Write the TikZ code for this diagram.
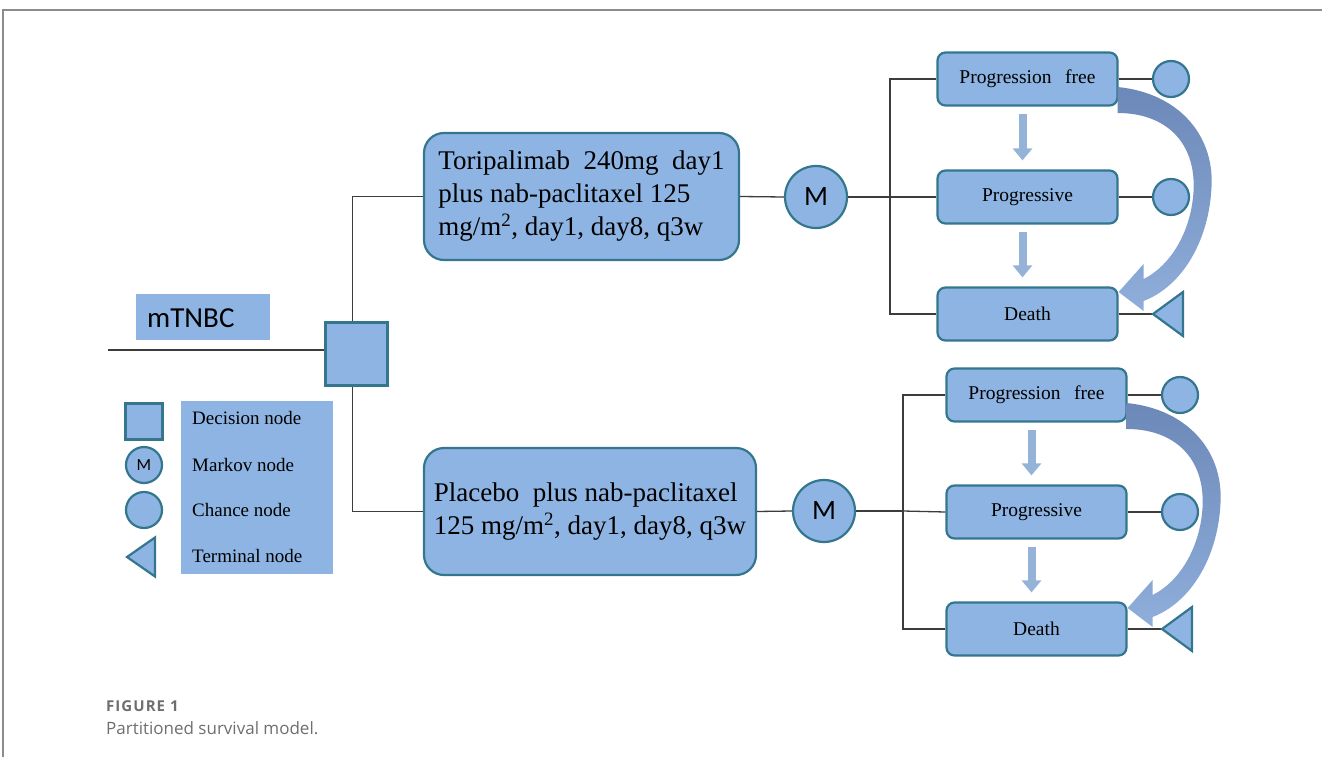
\documentclass[tikz,border=0pt]{standalone}
\usepackage{fontspec}
\setmainfont{Liberation Serif}
\newfontfamily\calibri{Carlito}
\newfontfamily\capfont{Open Sans}
\newfontfamily\figfont[LetterSpace=7]{Open Sans}
\usetikzlibrary{arrows.meta,calc,shapes.geometric}
\definecolor{boxfill}{RGB}{141,180,226}
\definecolor{bordc}{RGB}{52,118,142}
\definecolor{linec}{RGB}{60,60,60}
\definecolor{sarrow}{RGB}{149,179,215}
\definecolor{bigtop}{RGB}{108,136,184}
\definecolor{bigbot}{RGB}{143,174,218}
\definecolor{framec}{RGB}{140,140,140}
\definecolor{capc}{RGB}{110,110,110}
\tikzset{
  conn/.style={draw=linec, line width=1.3pt},
  shp/.style={draw=bordc, fill=boxfill, line width=2.2pt},
  decision/.style={shp, rectangle, minimum width=62pt, minimum height=63pt, inner sep=0pt},
  bigbox/.style={shp, rounded corners=20pt, inner sep=0pt, align=left, font=\fontsize{27}{33}\selectfont},
  statebox/.style={shp, rounded corners=8pt, minimum width=180pt, minimum height=53pt, inner sep=0pt, font=\fontsize{19.5}{22}\selectfont},
  markov/.style={shp, circle, minimum size=62pt, inner sep=0pt, font=\calibri\fontsize{28}{28}\selectfont},
  chance/.style={shp, circle, minimum size=36pt, inner sep=0pt},
  term/.style={shp, line join=miter},
  small arrow/.style={draw=sarrow, line width=8pt, -{Triangle[width=19pt,length=12pt]}},
  curved arrow/.style={top color=bigtop, bottom color=bigbot, draw=none},
  legtext/.style={anchor=west, inner sep=0pt, font=\fontsize{19}{22}\selectfont},
}
\begin{document}
\begin{tikzpicture}[x=1pt,y=-1pt]
\useasboundingbox (0,0) rectangle (1322,757);
% frame
\draw[framec, line width=2pt] (3,757) -- (3,10) -- (1322,10);

% mTNBC label
\fill[boxfill] (136,294) rectangle (270,340);
\node[anchor=west, inner sep=0pt, font=\calibri\fontsize{29}{29}\selectfont] (mt) at (147,318) {mTNBC};

% decision
\coordinate (in) at (108,350);
\node[decision] (dec) at (356.5,354) {};
\draw[conn] (in) -- (in -| dec.west);

% treatment boxes
\node[bigbox, minimum width=315pt, minimum height=127pt] (tb) at (581.5,196.5)
  {Toripalimab\ \ 240mg\ \ day1\\plus nab-paclitaxel 125\\mg/m\textsuperscript{2}, day1, day8, q3w};
\node[bigbox, minimum width=332pt, minimum height=127pt] (pb) at (590,511.5)
  {Placebo\ \ plus nab-paclitaxel\\125 mg/m\textsuperscript{2}, day1, day8, q3w};
\draw[conn] ([xshift=-4pt]dec.north) |- (tb.west);
\draw[conn] ([xshift=-4pt]dec.south) |- (pb.west);

% Markov nodes
\node[markov] (m1) at (816,197) {M};
\node[markov] (m2) at (824,511) {M};
\draw[conn] (tb.east) -- (m1.west);
\draw[conn] (pb.east) -- (m2.west);

% ---------- upper state cluster ----------
\node[statebox] (pf1) at (1027.5,79) {Progression\hspace{0.45em} free};
\node[statebox] (pg1) at (1027.5,197) {Progressive};
\node[statebox] (de1) at (1027.5,314) {Death};
\coordinate (j1) at (890,197);
\draw[conn] (m1.east) -- (j1);
\draw[conn] (pf1.west) -| (j1) |- (de1.west);
\draw[conn] (j1) -- (pg1.west);
\node[chance] (c11) at (1171,79) {};
\node[chance] (c12) at (1171,197) {};
\draw[conn] (pf1.east) -- (c11.west);
\draw[conn] (pg1.east) -- (c12.west);
\coordinate (t1) at (1153,314);
\draw[conn] (de1.east) -- (t1);
\draw[term] (t1) -- ++(30,-22) -- ++(0,44) -- cycle;
\draw[small arrow] ([xshift=-5pt,yshift=-7pt]pf1.south) -- ([xshift=-5pt,yshift=9pt]pg1.north);
\draw[small arrow] ([xshift=-5pt,yshift=-7pt]pg1.south) -- ([xshift=-5pt,yshift=9pt]de1.north);
\begin{scope}[shift={(pf1.east)}]
\path[curved arrow] (-1,8) .. controls (60,14) and (95,56) .. (93,106)
  .. controls (91,161) and (64,207) .. (25,222) -- (25,232) -- (0,213) -- (25,185) -- (25,200)
  .. controls (53,186) and (73,151) .. (75,111) .. controls (77,63) and (47,34) .. (-1,34) -- cycle;
\end{scope}

% ---------- lower state cluster ----------
\node[statebox] (pf2) at (1036.5,395) {Progression\hspace{0.45em} free};
\node[statebox] (pg2) at (1036.5,512) {Progressive};
\node[statebox] (de2) at (1036.5,629) {Death};
\coordinate (j2) at (903,511);
\draw[conn] (m2.east) -- (j2);
\draw[conn] (pf2.west) -| (j2) |- (de2.west);
\draw[conn] (j2) -- (pg2.west);
\node[chance] (c21) at (1180,395) {};
\node[chance] (c22) at (1180,512) {};
\draw[conn] (pf2.east) -- (c21.west);
\draw[conn] (pg2.east) -- (c22.west);
\coordinate (t2) at (1162,629);
\draw[conn] (de2.east) -- (t2);
\draw[term] (t2) -- ++(30,-22) -- ++(0,44) -- cycle;
\draw[small arrow] ([xshift=-5pt,yshift=-7pt]pf2.south) -- ([xshift=-5pt,yshift=9pt]pg2.north);
\draw[small arrow] ([xshift=-5pt,yshift=-7pt]pg2.south) -- ([xshift=-5pt,yshift=9pt]de2.north);
\begin{scope}[shift={(pf2.east)}]
\path[curved arrow] (-1,8) .. controls (60,14) and (95,56) .. (93,106)
  .. controls (91,161) and (64,207) .. (25,222) -- (25,232) -- (0,213) -- (25,185) -- (25,200)
  .. controls (53,186) and (73,151) .. (75,111) .. controls (77,63) and (47,34) .. (-1,34) -- cycle;
\end{scope}

% ---------- legend ----------
\node[shp, rectangle, minimum width=37pt, minimum height=36pt, inner sep=0pt] (ls) at (144,421.5) {};
\node[shp, circle, minimum size=36pt, inner sep=0pt, font=\calibri\fontsize{17}{17}\selectfont] (lm) at (144,465) {M};
\node[chance] (lc) at (144,510) {};
\coordinate (lt) at (127,557);
\draw[term] (lt) -- ++(28,-19.5) -- ++(0,39) -- cycle;
\fill[boxfill] (181,401) rectangle (333,574);
\node[legtext] (l1) at (192,418) {Decision node};
\node[legtext] (l2) at (192,465) {Markov node};
\node[legtext] (l3) at (192,510) {Chance node};
\node[legtext] (l4) at (192,556) {Terminal node};

% caption
\node[anchor=west, inner sep=0pt, text=capc, font=\figfont\fontsize{15}{16}\selectfont\bfseries] (fig) at (106,706) {FIGURE 1};
\node[anchor=west, inner sep=0pt, text=capc, font=\capfont\fontsize{17}{19}\selectfont] (cap) at (106,728) {Partitioned survival model.};
\end{tikzpicture}
\end{document}
